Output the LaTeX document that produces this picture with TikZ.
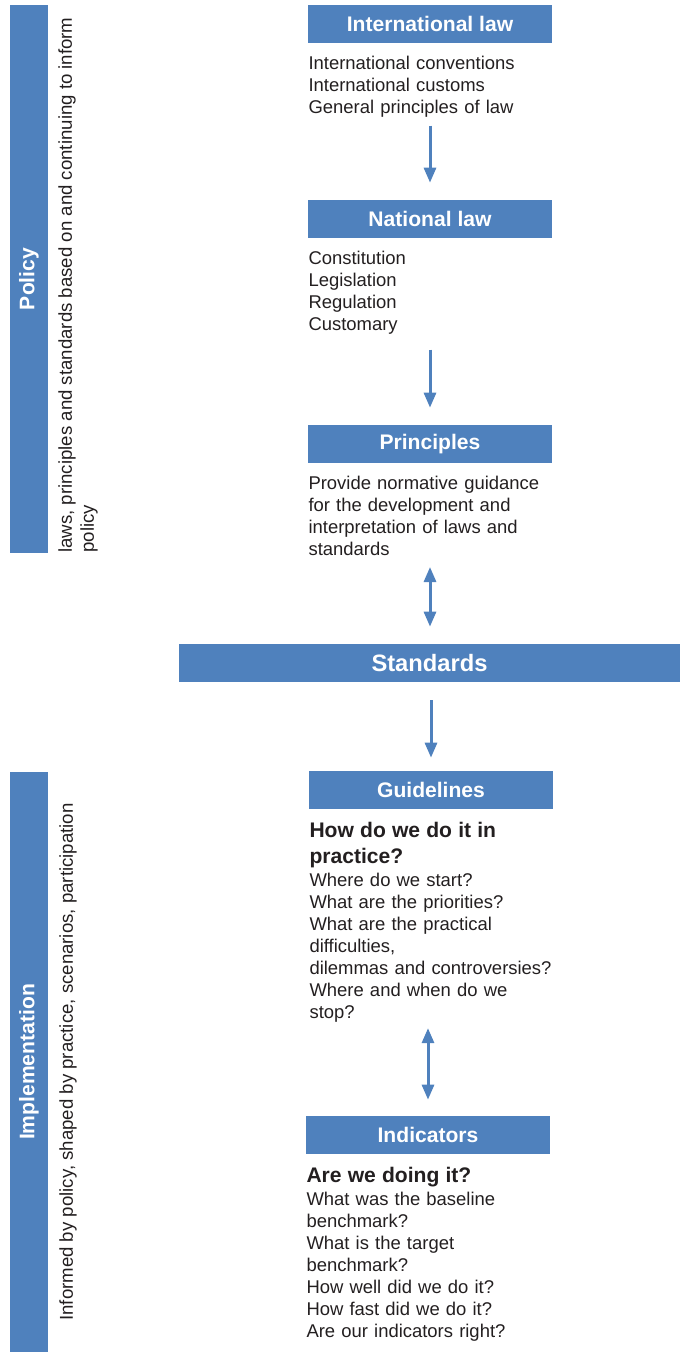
\documentclass[tikz,border=0pt]{standalone}
\usepackage{fontspec}
\setmainfont{Liberation Sans}
\usepackage{tikz}
\usetikzlibrary{arrows.meta,positioning}
\definecolor{headblue}{HTML}{4F81BD}
\definecolor{inkgrey}{HTML}{231F20}
\tikzset{
  headbox/.style={fill=headblue,text=white,font=\fontsize{12}{14}\selectfont\bfseries,
    minimum width=4.88cm,minimum height=0.76cm,inner sep=0pt},
  bodytext/.style={text=inkgrey,align=left,text width=4.86cm,inner sep=0pt,
    font=\fontsize{10.5}{12.6}\selectfont},
  sidebar/.style={fill=headblue,text=white,rotate=90,font=\fontsize{12}{14}\selectfont\bfseries,
    minimum height=0.76cm,inner sep=0pt},
  sidenote/.style={text=inkgrey,rotate=90,anchor=north west,align=left,inner sep=0pt,
    font=\fontsize{10.6}{12.6}\selectfont},
  flowarrow/.style={draw=headblue,line width=0.06cm,-{Triangle[width=0.24cm,length=0.3cm]}},
  twowayarrow/.style={draw=headblue,line width=0.06cm,
    {Triangle[width=0.24cm,length=0.3cm]}-{Triangle[width=0.24cm,length=0.3cm]}}
}
\newcommand{\qline}{\fontsize{12}{14}\selectfont\bfseries}

\begin{document}
\begin{tikzpicture}[x=0.02cm,y=-0.02cm]
  \useasboundingbox (0,0) rectangle (683,1360);

  % left hand bands
  \node[sidebar,minimum width=10.96cm] (policy) at (29,279) {Policy};
  \node[sidenote] (policynote) at (58,553) {laws, principles and standards based on and continuing to inform\\policy};
  \node[sidebar,minimum width=11.6cm] (impl) at (29,1062) {Implementation};
  \node[sidenote] (implnote) at (59,1321) {Informed by policy, shaped by practice, scenarios, participation};

  % policy column
  \node[headbox] (intl) at (430,24) {International law};
  \node[bodytext,below=0.24cm of intl] (intlbody) {International conventions\\International customs\\General principles of law};
  \node[headbox] (natl) at (430,219) {National law};
  \node[bodytext,below=0.24cm of natl] (natlbody) {Constitution\\Legislation\\Regulation\\Customary};
  \node[headbox] (princ) at (430,444) {Principles};
  \node[bodytext,below=0.24cm of princ] (princbody) {Provide normative guidance\\for the development and\\interpretation of laws and\\standards};

  \node[headbox,minimum width=10.02cm,font=\fontsize{13.5}{16}\selectfont\bfseries] (stand) at (429.5,663) {Standards};

  % implementation column
  \node[headbox] (guide) at (431,790) {Guidelines};
  \node[bodytext,below=0.26cm of guide] (guidebody) {{\qline How do we do it in\\[2.2pt] practice?}\\Where do we start?\\What are the priorities?\\What are the practical\\difficulties,\\dilemmas and controversies?\\Where and when do we\\stop?};
  \node[headbox] (indic) at (428,1135) {Indicators};
  \node[bodytext,below=0.26cm of indic] (indicbody) {{\qline Are we doing it?}\\What was the baseline\\benchmark?\\What is the target\\benchmark?\\How well did we do it?\\How fast did we do it?\\Are our indicators right?};

  \draw[flowarrow,shorten <=0.16cm,shorten >=0.34cm] (intlbody) -- (natl);
  \draw[flowarrow,shorten <=0.3cm,shorten >=0.34cm] (natlbody) -- (princ);
  \draw[twowayarrow,shorten <=0.22cm,shorten >=0.34cm] (princbody) -- (stand.north -| princbody);
  \draw[flowarrow,shorten <=0.36cm,shorten >=0.26cm] (stand.south -| guide) -- (guide);
  \draw[twowayarrow,shorten <=0.1cm,shorten >=0.32cm] (indic.north |- guidebody.south) -- (indic);
\end{tikzpicture}
\end{document}
